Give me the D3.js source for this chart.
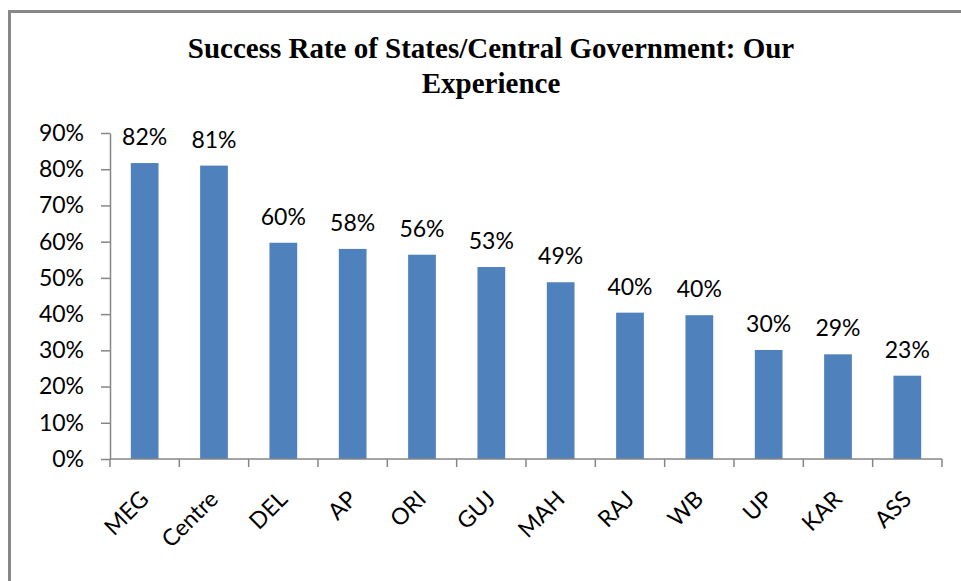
<!DOCTYPE html>
<html>
<head>
<meta charset="utf-8">
<script src="https://cdn.jsdelivr.net/npm/d3@7"></script>
<style>
  html, body { margin: 0; padding: 0; background: #fff; }
  svg { display: block; }
</style>
</head>
<body>
<svg id="chart" width="961" height="581"></svg>
<script>
const titleLines = ["Success Rate of States/Central Government: Our", "Experience"];
const categories = ["MEG", "Centre", "DEL", "AP", "ORI", "GUJ", "MAH", "RAJ", "WB", "UP", "KAR", "ASS"];
const values = [0.817, 0.810, 0.597, 0.580, 0.564, 0.530, 0.488, 0.404, 0.397, 0.301, 0.289, 0.230];
const yTicks = [0, 0.1, 0.2, 0.3, 0.4, 0.5, 0.6, 0.7, 0.8, 0.9];

const svg = d3.select("#chart");
const labelFont = "Lato, 'Open Sans', sans-serif";
const axisColor = "#868686";
const barColor = "#4f81bd";

// chart border
svg.append("path")
  .attr("d", "M9.5,600 L9.5,11.5 L970,11.5")
  .attr("fill", "none")
  .attr("stroke", "#888")
  .attr("stroke-width", 3);

// title
svg.append("g").selectAll("text")
  .data(titleLines)
  .join("text")
  .attr("x", 491)
  .attr("y", (d, i) => 58 + i * 35)
  .attr("text-anchor", "middle")
  .attr("font-family", "'Liberation Serif', 'Times New Roman', serif")
  .attr("font-weight", "bold")
  .attr("font-size", 29)
  .attr("fill", "#000")
  .text(d => d);

const x = d3.scaleBand()
  .domain(categories)
  .range([110, 942])
  .paddingInner(0.6)
  .paddingOuter(0.3);

const y = d3.scaleLinear()
  .domain([0, 0.9])
  .range([459, 133]);

// y axis
const yAxis = svg.append("g")
  .attr("transform", "translate(110,0)")
  .call(d3.axisLeft(y).tickValues(yTicks).tickFormat(d3.format(".0%")).tickSize(9).tickPadding(17).tickSizeOuter(0));
yAxis.select(".domain").attr("stroke", axisColor).attr("stroke-width", 1.5);
yAxis.selectAll(".tick line").attr("stroke", axisColor).attr("stroke-width", 1.5);
yAxis.selectAll(".tick text")
  .attr("font-family", labelFont)
  .attr("font-size", 23)
  .attr("fill", "#000");

// bars
svg.append("g").selectAll("rect")
  .data(categories)
  .join("rect")
  .attr("x", d => x(d))
  .attr("width", x.bandwidth())
  .attr("y", (d, i) => y(values[i]))
  .attr("height", (d, i) => y(0) - y(values[i]))
  .attr("fill", barColor);

// data labels
svg.append("g").selectAll("text")
  .data(categories)
  .join("text")
  .attr("x", d => x(d) + x.bandwidth() / 2)
  .attr("y", (d, i) => y(values[i]) - 18)
  .attr("text-anchor", "middle")
  .attr("font-family", labelFont)
  .attr("font-size", 23)
  .attr("fill", "#000")
  .text((d, i) => d3.format(".0%")(values[i]));

// x axis
const xAxisG = svg.append("g").attr("transform", `translate(0,${y(0)})`);
xAxisG.append("line")
  .attr("x1", x.range()[0]).attr("x2", x.range()[1])
  .attr("y1", 0).attr("y2", 0)
  .attr("stroke", axisColor).attr("stroke-width", 1.5);
const half = x.step() * x.paddingInner() / 2;
const boundaries = categories.map(c => x(c) - half).concat([x(categories[categories.length - 1]) + x.bandwidth() + half]);
xAxisG.selectAll("line.tick")
  .data(boundaries)
  .join("line")
  .attr("class", "tick")
  .attr("x1", d => d).attr("x2", d => d)
  .attr("y1", 0).attr("y2", 8)
  .attr("stroke", axisColor).attr("stroke-width", 1.5);

xAxisG.selectAll("text")
  .data(categories)
  .join("text")
  .attr("transform", d => `translate(${x(d) + x.bandwidth() / 2 - 6},${30}) rotate(-45)`)
  .attr("text-anchor", "end")
  .attr("dy", "0.71em")
  .attr("font-family", labelFont)
  .attr("font-size", 23)
  .attr("fill", "#000")
  .text(d => d);
</script>
</body>
</html>
